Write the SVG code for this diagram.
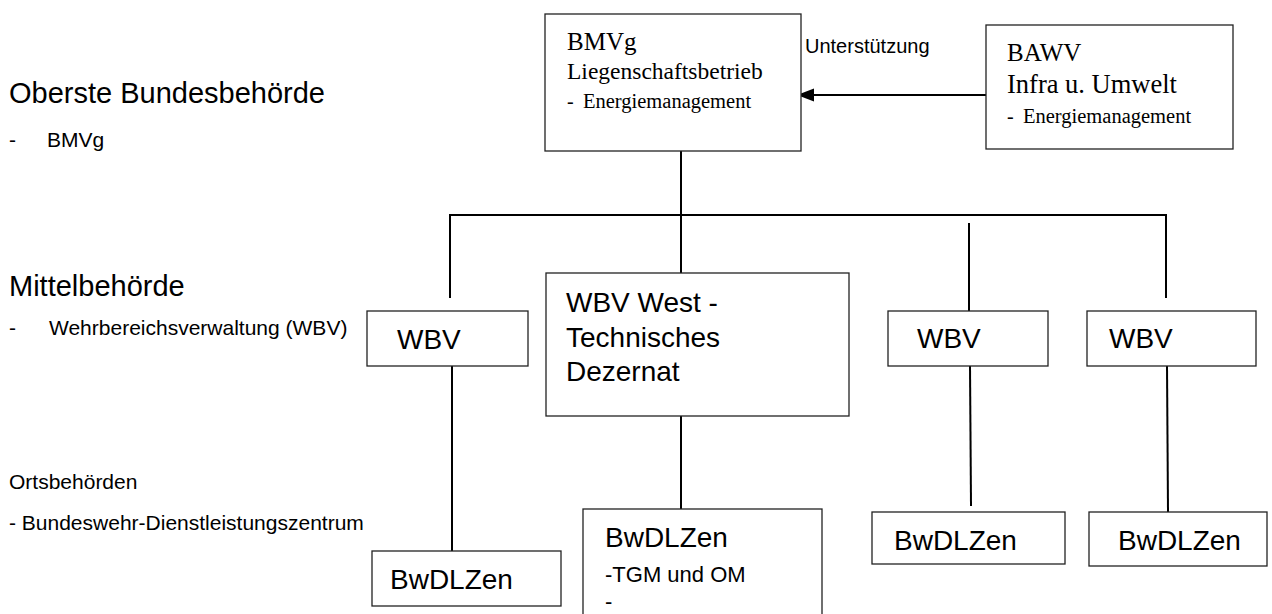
<svg xmlns="http://www.w3.org/2000/svg" width="1272" height="614" viewBox="0 0 1272 614">
<defs>
<style>
.box{fill:#fff;stroke:#222;stroke-width:1.3}
.ln{stroke:#000;stroke-width:2;fill:none}
.s{font-family:"Liberation Sans",Arial,sans-serif;fill:#000}
.r{font-family:"Liberation Serif","Times New Roman",serif;fill:#000}
</style>
<marker id="ah" markerUnits="userSpaceOnUse" markerWidth="18" markerHeight="14" refX="17" refY="6.5" orient="auto">
<path d="M0,0 L17,6.5 L0,13 Z" fill="#000"/>
</marker>
</defs>
<rect width="1272" height="614" fill="#fff"/>

<g id="labels">
<text class="s" x="9" y="103" font-size="29">Oberste Bundesbehörde</text>
<text class="s" x="9" y="147" font-size="21">-</text>
<text class="s" x="47" y="147" font-size="21">BMVg</text>
<text class="s" x="9" y="296" font-size="29">Mittelbehörde</text>
<text class="s" x="9" y="335" font-size="21">-</text>
<text class="s" x="49" y="335" font-size="21">Wehrbereichsverwaltung (WBV)</text>
<text class="s" x="9" y="489" font-size="21">Ortsbehörden</text>
<text class="s" x="9" y="530" font-size="21">- Bundeswehr-Dienstleistungszentrum</text>
</g>

<g id="connectors">
<line class="ln" x1="986" y1="95" x2="797" y2="95" marker-end="url(#ah)"/>
<text class="s" x="805" y="53" font-size="20">Unterstützung</text>
<line class="ln" x1="681" y1="151" x2="681" y2="273"/>
<polyline class="ln" points="450,298 450,215 1166,215 1166,298"/>
<line class="ln" x1="969" y1="223" x2="969" y2="321"/>
<line class="ln" x1="452" y1="366" x2="452" y2="551"/>
<line class="ln" x1="681" y1="416" x2="681" y2="511"/>
<line class="ln" x1="970" y1="366" x2="971" y2="506"/>
<line class="ln" x1="1167" y1="366" x2="1168" y2="512"/>
</g>

<g id="bmvg">
<rect class="box" x="545" y="14" width="256" height="137"/>
<text class="r" x="567" y="50" font-size="25">BMVg</text>
<text class="r" x="567" y="79" font-size="23.5">Liegenschaftsbetrieb</text>
<text class="r" x="567" y="108" font-size="20">-</text>
<text class="r" x="583" y="108" font-size="20.5">Energiemanagement</text>
</g>

<g id="bawv">
<rect class="box" x="986" y="25" width="247" height="124"/>
<text class="r" x="1007" y="61" font-size="25">BAWV</text>
<text class="r" x="1007" y="93" font-size="26.5">Infra u. Umwelt</text>
<text class="r" x="1007" y="123" font-size="20">-</text>
<text class="r" x="1023" y="123" font-size="20.5">Energiemanagement</text>
</g>

<g id="wbv1">
<rect class="box" x="367" y="311" width="161" height="55"/>
<text class="s" x="397" y="349" font-size="28">WBV</text>
</g>

<g id="wbvwest">
<rect class="box" x="546" y="273" width="303" height="143"/>
<text class="s" x="566" y="312" font-size="28">WBV West -</text>
<text class="s" x="566" y="347" font-size="28">Technisches</text>
<text class="s" x="566" y="381" font-size="28">Dezernat</text>
</g>

<g id="wbv3">
<rect class="box" x="888" y="311" width="160" height="55"/>
<text class="s" x="917" y="348" font-size="28">WBV</text>
</g>

<g id="wbv4">
<rect class="box" x="1087" y="311" width="169" height="55"/>
<text class="s" x="1109" y="348" font-size="28">WBV</text>
</g>

<g id="bwdlzen1">
<rect class="box" x="372" y="551" width="189" height="55"/>
<text class="s" x="390" y="589" font-size="28">BwDLZen</text>
</g>

<g id="bwdlzen2">
<rect class="box" x="583" y="509" width="239" height="120"/>
<text class="s" x="605" y="547" font-size="28">BwDLZen</text>
<text class="s" x="605" y="582" font-size="22">-TGM und OM</text>
<text class="s" x="605" y="609" font-size="22">-</text>
</g>

<g id="bwdlzen3">
<rect class="box" x="872" y="512" width="193" height="52"/>
<text class="s" x="894" y="550" font-size="28">BwDLZen</text>
</g>

<g id="bwdlzen4">
<rect class="box" x="1089" y="512" width="178" height="54"/>
<text class="s" x="1118" y="550" font-size="28">BwDLZen</text>
</g>
</svg>
